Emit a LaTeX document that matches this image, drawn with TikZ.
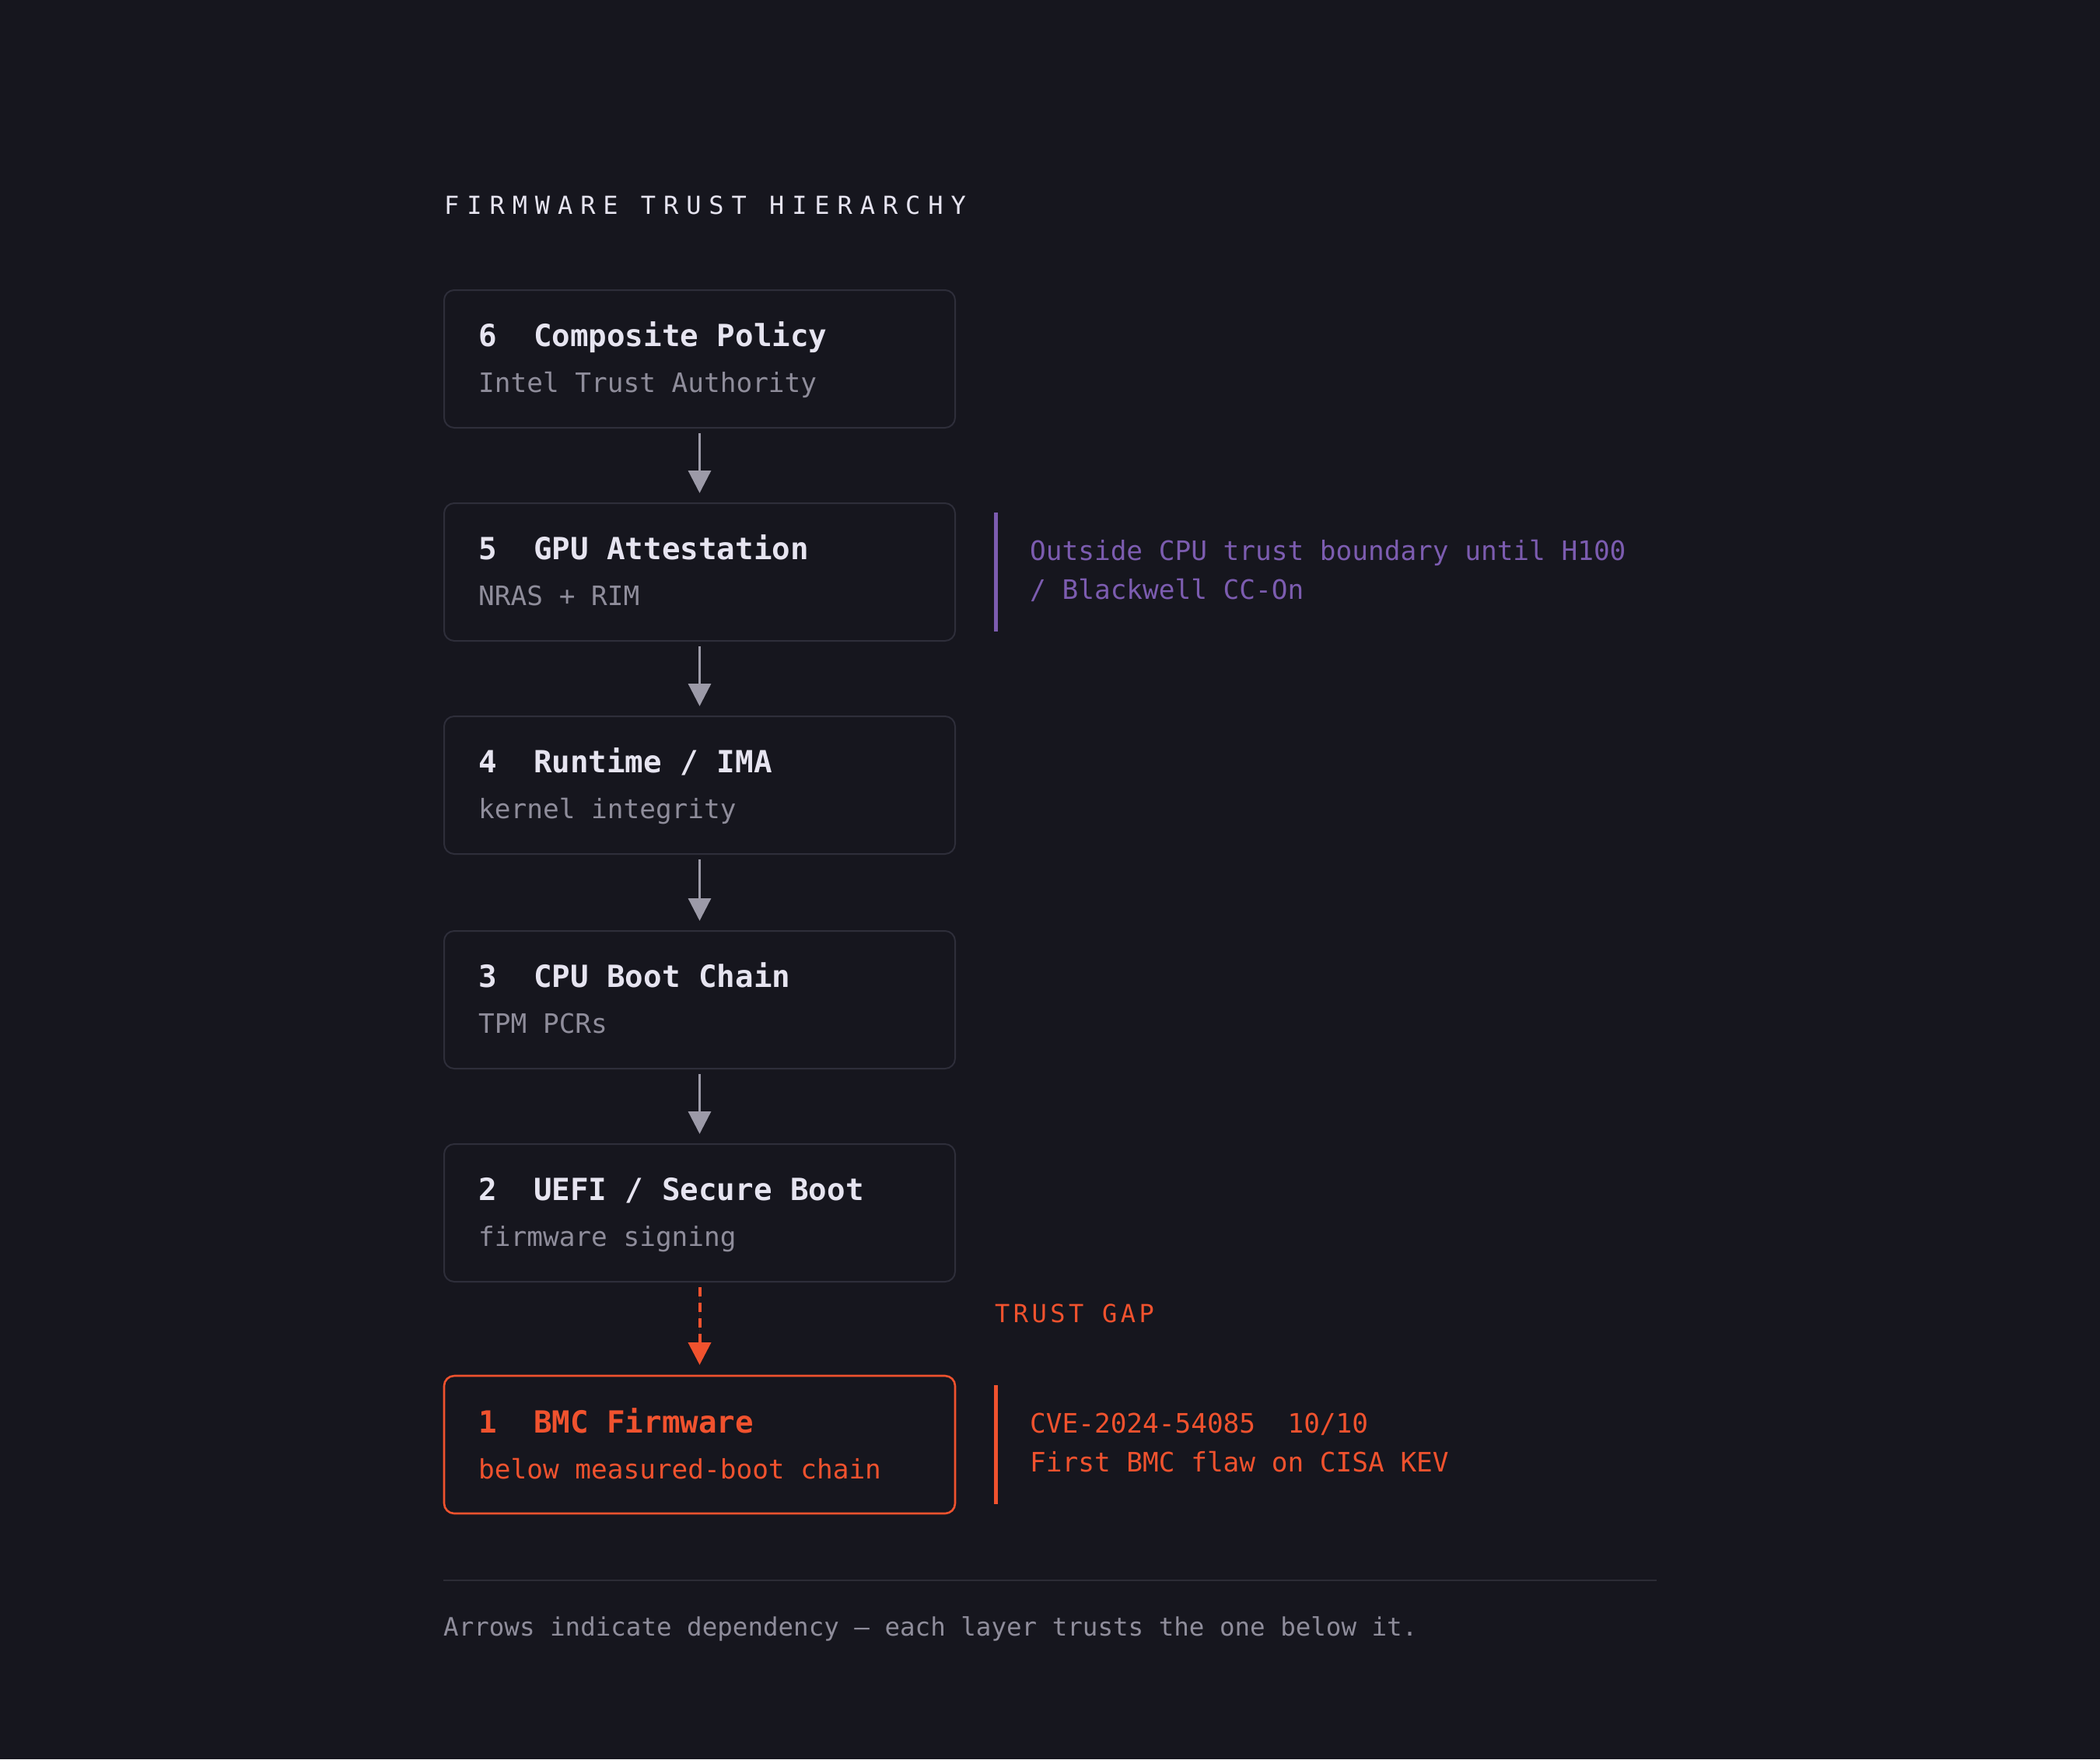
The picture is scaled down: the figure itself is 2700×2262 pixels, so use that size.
\documentclass[tikz,border=0pt]{standalone}
\usepackage{fontspec}
\newfontfamily\mono{DejaVu Sans Mono}
\usetikzlibrary{arrows.meta}
\definecolor{bg}{HTML}{16161E}
\definecolor{boxline}{HTML}{2E2E3A}
\definecolor{titlewhite}{HTML}{E6E4F0}
\definecolor{subgray}{HTML}{8F8D9B}
\definecolor{arrowgray}{HTML}{9C9AA8}
\definecolor{violet}{HTML}{7C5CB0}
\definecolor{alert}{HTML}{F0522E}
\definecolor{rulegray}{HTML}{2C2C36}
\tikzset{
  layer/.style={draw=boxline, line width=2pt, rounded corners=13pt, fill=bg,
    minimum width=657pt, minimum height=177pt, outer sep=0pt, inner sep=0pt, anchor=north west},
  alertlayer/.style={layer, draw=alert, line width=2.6pt},
  ltitle/.style={anchor=base west, inner sep=0pt, text=titlewhite,
    font=\mono\bfseries\fontsize{39.2}{47}\selectfont},
  lsub/.style={anchor=base west, inner sep=0pt, text=subgray,
    font=\mono\fontsize{34.4}{42}\selectfont},
  note/.style={anchor=base west, inner sep=0pt,
    font=\mono\fontsize{34.4}{42}\selectfont},
  deparrow/.style={draw=arrowgray, line width=3.3pt,
    -{Triangle[length=29pt,width=29pt]}, fill=arrowgray},
  gaparrow/.style={draw=alert, line width=4pt, dash pattern=on 12pt off 8pt,
    -{Triangle[length=29pt,width=29pt]}, fill=alert},
  notebar/.style={line width=5pt},
}
\begin{document}
\begin{tikzpicture}[x=1pt,y=-1pt]
\fill[bg] (0,0) rectangle (2700,2262);
\useasboundingbox (0,0) rectangle (2700,2262);

% heading
\node[anchor=base west, inner sep=0pt, text=titlewhite,
  font=\mono\fontsize{32}{38}\selectfont\addfontfeature{LetterSpace=31}]
  (heading) at (571,275) {FIRMWARE TRUST HIERARCHY};

% layers
\node[layer] (b6) at (571,373) {};
\node[layer] (b5) at (571,647) {};
\node[layer] (b4) at (571,921) {};
\node[layer] (b3) at (571,1197) {};
\node[layer] (b2) at (571,1471) {};
\node[alertlayer] (b1) at (571,1769) {};

\node[ltitle] (t6) at ([xshift=44pt,yshift=-72pt]b6.north west) {6~~Composite Policy};
\node[lsub]   (s6) at ([xshift=44pt,yshift=-131pt]b6.north west) {Intel Trust Authority};
\node[ltitle] (t5) at ([xshift=44pt,yshift=-72pt]b5.north west) {5~~GPU Attestation};
\node[lsub]   (s5) at ([xshift=44pt,yshift=-131pt]b5.north west) {NRAS + RIM};
\node[ltitle] (t4) at ([xshift=44pt,yshift=-72pt]b4.north west) {4~~Runtime / IMA};
\node[lsub]   (s4) at ([xshift=44pt,yshift=-131pt]b4.north west) {kernel integrity};
\node[ltitle] (t3) at ([xshift=44pt,yshift=-72pt]b3.north west) {3~~CPU Boot Chain};
\node[lsub]   (s3) at ([xshift=44pt,yshift=-131pt]b3.north west) {TPM PCRs};
\node[ltitle] (t2) at ([xshift=44pt,yshift=-72pt]b2.north west) {2~~UEFI / Secure Boot};
\node[lsub]   (s2) at ([xshift=44pt,yshift=-131pt]b2.north west) {firmware signing};
\node[ltitle, text=alert] (t1) at ([xshift=44pt,yshift=-73pt]b1.north west) {1~~BMC Firmware};
\node[lsub, text=alert]   (s1) at ([xshift=44pt,yshift=-132pt]b1.north west) {below measured-boot chain};

% dependency arrows
\draw[deparrow] ([yshift=-7pt]b6.south) -- ([yshift=13pt]b5.north);
\draw[deparrow] ([yshift=-7pt]b5.south) -- ([yshift=13pt]b4.north);
\draw[deparrow] ([yshift=-7pt]b4.south) -- ([yshift=13pt]b3.north);
\draw[deparrow] ([yshift=-7pt]b3.south) -- ([yshift=13pt]b2.north);
\draw[gaparrow] ([yshift=-7pt]b2.south) -- ([yshift=14pt]b1.north);

% trust gap label
\node[note, text=alert, font=\mono\fontsize{32}{38}\selectfont\addfontfeature{LetterSpace=14}]
  (gap) at (1279,1700) {TRUST GAP};

% GPU note
\draw[notebar, draw=violet] ([xshift=52pt,yshift=-12pt]b5.north east) -- ([xshift=52pt,yshift=12pt]b5.south east);
\node[note, text=violet] (n5a) at (1324,720) {Outside CPU trust boundary until H100};
\node[note, text=violet] (n5b) at (1324,770) {/ Blackwell CC-On};

% BMC note
\draw[notebar, draw=alert] ([xshift=52pt,yshift=-12pt]b1.north east) -- ([xshift=52pt,yshift=12pt]b1.south east);
\node[note, text=alert] (n1a) at (1324,1842) {CVE-2024-54085~~10/10};
\node[note, text=alert] (n1b) at (1324,1892) {First BMC flaw on CISA KEV};

% footer
\coordinate (rl) at (570,2032);
\coordinate (rr) at (2130,2032);
\draw[rulegray, line width=2.7pt] (rl) -- (rr);
\node[anchor=base west, inner sep=0pt, text=subgray, font=\mono\fontsize{32.5}{40}\selectfont]
  (foot) at (570,2103) {Arrows indicate dependency — each layer trusts the one below it.};
\end{tikzpicture}
\end{document}
